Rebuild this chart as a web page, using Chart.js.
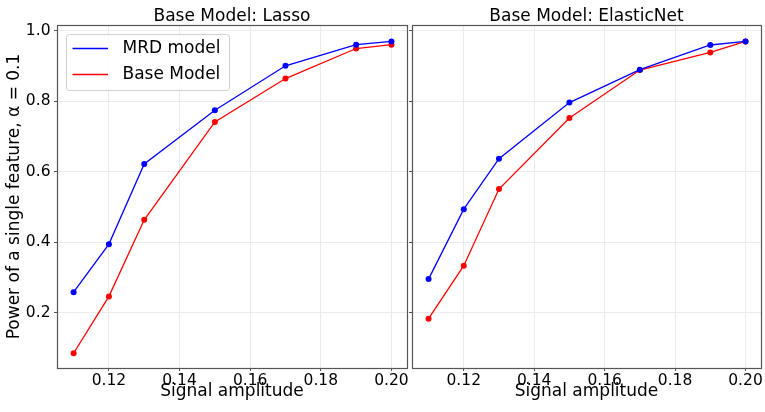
<!DOCTYPE html>
<html>
<head>
<meta charset="utf-8">
<script src="https://cdn.jsdelivr.net/npm/chart.js@4"></script>
<style>
  html, body { margin: 0; padding: 0; background: #fff; }
  #wrap { position: relative; width: 765px; height: 412px; }
  canvas { position: absolute; left: 0; top: 0; }
</style>
</head>
<body>
<div id="wrap">
  <canvas id="lasso" width="765" height="412"></canvas>
  <canvas id="enet" width="765" height="412"></canvas>
</div>
<script>
// values
var amplitude = [0.11, 0.12, 0.13, 0.15, 0.17, 0.19, 0.20];
var lassoMRD  = [0.259, 0.395, 0.622, 0.774, 0.900, 0.960, 0.969];
var lassoBase = [0.086, 0.247, 0.464, 0.741, 0.864, 0.949, 0.960];
var enetMRD   = [0.296, 0.494, 0.637, 0.796, 0.889, 0.959, 0.969];
var enetBase  = [0.184, 0.334, 0.551, 0.752, 0.888, 0.938, 0.969];
var xTicks = [0.12, 0.14, 0.16, 0.18, 0.20];
var yTicks = [0.2, 0.4, 0.6, 0.8, 1.0];
var seriesNames = ['MRD model', 'Base Model'];
var seriesColors = ['#0000ff', '#ff0000'];

Chart.defaults.font.family = "'DejaVu Sans', sans-serif";
Chart.defaults.color = '#000';

function points(ys) {
  return amplitude.map(function(x, i) { return {x: x, y: ys[i]}; });
}

function datasets(mrd, base) {
  return [mrd, base].map(function(vals, i) {
    return {
      label: seriesNames[i],
      data: points(vals),
      borderColor: seriesColors[i],
      backgroundColor: seriesColors[i],
      borderWidth: 1.3,
      pointRadius: 3,
      pointBorderWidth: 0,
      tension: 0
    };
  });
}

// frame + panel title + optional legend
var panelDeco = {
  id: 'panelDeco',
  afterDatasetsDraw: function(chart, args, opts) {
    var a = chart.chartArea, ctx = chart.ctx;
    ctx.save();
    ctx.strokeStyle = '#555';
    ctx.lineWidth = 1.2;
    ctx.strokeRect(a.left + 0.5, a.top + 0.5, a.right - a.left, a.bottom - a.top);

    ctx.fillStyle = '#000';
    ctx.font = "17px 'DejaVu Sans'";
    ctx.textAlign = 'center';
    ctx.textBaseline = 'alphabetic';
    ctx.fillText(opts.title, (a.left + a.right) / 2, 21);

    if (opts.legend) {
      var bx = a.left + 9, by = 34, bw = 163, bh = 56;
      ctx.beginPath();
      ctx.roundRect(bx + 0.5, by + 0.5, bw, bh, 3);
      ctx.fillStyle = 'rgba(255,255,255,0.8)';
      ctx.fill();
      ctx.strokeStyle = '#d0d0d0';
      ctx.lineWidth = 1;
      ctx.stroke();
      ctx.font = "17px 'DejaVu Sans'";
      ctx.textAlign = 'left';
      ctx.textBaseline = 'middle';
      chart.data.datasets.forEach(function(ds, i) {
        var yy = by + 14.5 + i * 26;
        ctx.strokeStyle = ds.borderColor;
        ctx.lineWidth = 1.3;
        ctx.beginPath();
        ctx.moveTo(bx + 6.5, yy);
        ctx.lineTo(bx + 42, yy);
        ctx.stroke();
        ctx.fillStyle = '#000';
        ctx.fillText(ds.label, bx + 56.5, yy + 0.5);
      });
    }
    ctx.restore();
  }
};

function options(isLeft, title) {
  return {
    responsive: false,
    animation: false,
    layout: { padding: isLeft ? {left: 0, right: 358, top: 25, bottom: 0}
                              : {left: 409, right: 3, top: 25, bottom: 0} },
    plugins: {
      legend: { display: false },
      tooltip: { enabled: false },
      panelDeco: { title: title, legend: isLeft }
    },
    scales: {
      x: {
        type: 'linear', min: 0.1053, max: 0.2044,
        afterBuildTicks: function(s) { s.ticks = xTicks.map(function(v) { return {value: v}; }); },
        afterFit: function(s) { s.height = 44; s.paddingLeft = 0; s.paddingRight = 0; },
        border: { display: false },
        grid: { color: '#ebebeb', tickColor: '#555', tickLength: 3 },
        ticks: { font: { size: 15.5 }, padding: 1, maxRotation: 0, autoSkip: false,
                 callback: function(v) { return v.toFixed(2); } },
        title: { display: true, text: 'Signal amplitude', font: { size: 17 },
                 padding: { top: 0, bottom: 9.8 } }
      },
      y: {
        type: 'linear', min: 0.0442, max: 1.0156,
        afterBuildTicks: function(s) { s.ticks = yTicks.map(function(v) { return {value: v}; }); },
        afterFit: function(s) { s.width = isLeft ? 57 : 3; s.paddingTop = 0; s.paddingBottom = 0; },
        border: { display: false },
        grid: { color: '#ebebeb', tickColor: '#555', tickLength: 3 },
        ticks: { display: isLeft, font: { size: 15.5 }, padding: 3.5, autoSkip: false,
                 callback: function(v) { return v.toFixed(1); } },
        title: { display: isLeft, text: 'Power of a single feature, α = 0.1', font: { size: 17 },
                 padding: { top: 4.8, bottom: 0 } }
      }
    }
  };
}

new Chart(document.getElementById('lasso'), {
  type: 'line',
  data: { datasets: datasets(lassoMRD, lassoBase) },
  options: options(true, 'Base Model: Lasso'),
  plugins: [panelDeco]
});

new Chart(document.getElementById('enet'), {
  type: 'line',
  data: { datasets: datasets(enetMRD, enetBase) },
  options: options(false, 'Base Model: ElasticNet'),
  plugins: [panelDeco]
});
</script>
</body>
</html>
